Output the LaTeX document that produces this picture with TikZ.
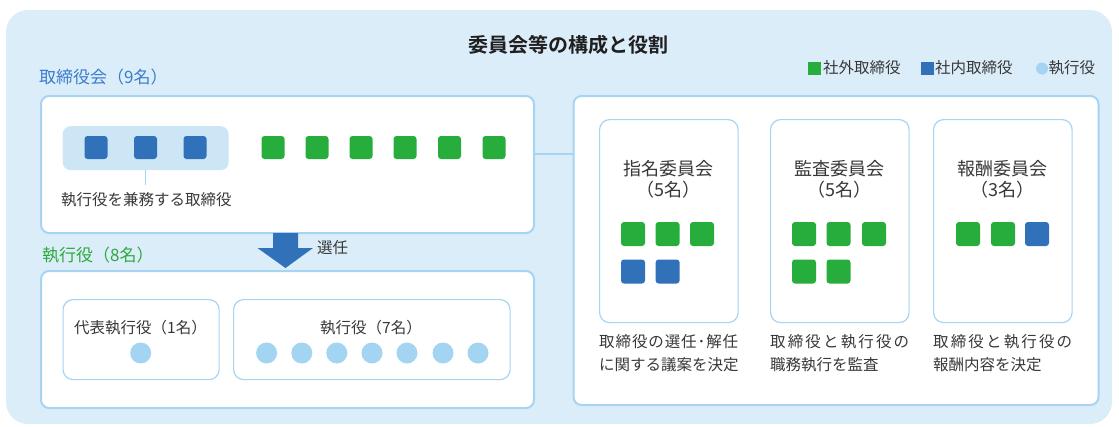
\documentclass[tikz,border=0pt]{standalone}
\usepackage{fontspec}
\setmainfont{Noto Sans CJK JP}[BoldFont={* Bold}]
\definecolor{bgblue}{HTML}{DCEDFA}
\definecolor{bordblue}{HTML}{A7D4F2}
\definecolor{sqgreen}{HTML}{27AD3B}
\definecolor{sqblue}{HTML}{3171BA}
\definecolor{circblue}{HTML}{A3D4F2}
\definecolor{shadeblue}{HTML}{CDE6F6}
\definecolor{txt}{HTML}{383838}
\definecolor{hblue}{HTML}{3A7DC9}
\definecolor{hgreen}{HTML}{2BAA3C}
\tikzset{
  panel/.style={draw=bordblue, line width=2pt, fill=white, rounded corners=8pt, inner sep=0pt, anchor=north west},
  subbox/.style={draw=bordblue, line width=1.2pt, fill=white, rounded corners=10pt, inner sep=0pt, anchor=north west},
  gsq/.style={fill=sqgreen, rounded corners=3pt, minimum size=23pt, inner sep=0pt},
  bsq/.style={fill=sqblue, rounded corners=3pt, minimum size=23pt, inner sep=0pt},
  csq/.style={fill=sqgreen, rounded corners=3pt, minimum size=24pt, inner sep=0pt},
  cbsq/.style={fill=sqblue, rounded corners=3pt, minimum size=24pt, inner sep=0pt},
  dot/.style={circle, fill=circblue, minimum size=21pt, inner sep=0pt},
  body/.style={text=txt, font=\fontsize{15.5}{19}\selectfont, inner sep=0pt},
  ctitle/.style={text=txt, font=\fontsize{18}{21}\selectfont, inner sep=0pt, align=center},
  conn/.style={draw=bordblue, line width=2pt},
}
\begin{document}
\begin{tikzpicture}[x=1pt,y=-1pt]
\useasboundingbox (0,0) rectangle (1119,426);
\fill[bgblue, rounded corners=22pt] (6,10) rectangle (1112,424);

% title and legend
\node[text=black!88, font=\fontsize{20}{24}\selectfont\bfseries, inner sep=0pt] (title) at (568,45) {委員会等の構成と役割};
\node[fill=sqgreen, minimum size=13pt, inner sep=0pt] (lg1) at (814.5,68.5) {};
\node[body, anchor=west] (lgt1) at (823,68) {社外取締役};
\node[fill=sqblue, minimum size=13pt, inner sep=0pt] (lg2) at (927,68.5) {};
\node[body, anchor=west] (lgt2) at (935,68) {社内取締役};
\node[circle, fill=circblue, minimum size=12pt, inner sep=0pt] (lg3) at (1042,68.5) {};
\node[body, anchor=west] (lgt3) at (1048.5,68) {執行役};

% board of directors
\node[text=hblue, font=\fontsize{17}{20}\selectfont, inner sep=0pt, anchor=west] (boardlbl) at (39,77) {取締役会（9名）};
\node[panel, minimum width=493pt, minimum height=137pt] (board) at (40,95) {};
\node[fill=shadeblue, rounded corners=8pt, minimum width=166pt, minimum height=44pt, inner sep=0pt, anchor=north west] (shade) at (62.5,126) {};
\foreach \i/\x in {1/96,2/145.5,3/195} \node[bsq] (bb\i) at (\x,147.5) {};
\foreach \i/\x in {1/273,2/317,3/361,4/405,5/449.5,6/494} \node[gsq] (bg\i) at (\x,147.5) {};
\node[body, anchor=west] (note) at (61,200) {執行役を兼務する取締役};
\draw[bordblue, line width=1.5pt] (shade.south) -- ++(0,15);

% selection arrow
\coordinate (arr) at (285.5,233);
\fill[sqblue] (arr) ++(-12.5,0) -- ++(25,0) -- ++(0,15) -- ++(15,0) -- (285.5,268) -- (257.5,248) -- (273,248) -- cycle;
\node[body, anchor=west] (senin) at (317,248) {選任};

% executive officers
\node[text=hgreen, font=\fontsize{17}{20}\selectfont, inner sep=0pt, anchor=west] (execlbl) at (42,255) {執行役（8名）};
\node[panel, minimum width=493pt, minimum height=137pt] (exec) at (40,270) {};
\node[subbox, minimum width=156pt, minimum height=80pt] (rep) at (62.5,299) {};
\node[body] (reptxt) at (140.5,328) {代表執行役（1名）};
\node[dot] (repd) at (140.7,353) {};
\node[subbox, minimum width=276.5pt, minimum height=80pt] (offs) at (233,299) {};
\node[body] (offtxt) at (371,328) {執行役（7名）};
\foreach \i/\x in {1/266.6,2/301.8,3/336.8,4/372,5/407,6/443,7/478} \node[dot] (od\i) at (\x,353) {};

% committees
\node[panel, minimum width=525pt, minimum height=309pt] (comm) at (572.5,95) {};
\coordinate (hl) at (0,154);
\draw[conn] (board.east |- hl) -- (comm.west |- hl);

\node[subbox, minimum width=138.5pt, minimum height=203pt] (nom) at (599,119) {};
\node[subbox, minimum width=138.5pt, minimum height=203pt] (aud) at (770,119) {};
\node[subbox, minimum width=138.5pt, minimum height=203pt] (rem) at (933,119) {};

\node[ctitle] (nomt) at (nom.north |- {(0,179)}) {指名委員会\\（5名）};
\node[ctitle] (audt) at (aud.north |- {(0,179)}) {監査委員会\\（5名）};
\node[ctitle] (remt) at (rem.north |- {(0,179)}) {報酬委員会\\（3名）};

\foreach \i/\x in {1/633,2/667.6,3/702} \node[csq] (ng\i) at (\x,234) {};
\foreach \i/\x in {1/633,2/667.6} \node[cbsq] (nb\i) at (\x,271.5) {};
\foreach \i/\x in {1/804,2/838.5,3/874} \node[csq] (ag\i) at (\x,234) {};
\foreach \i/\x in {4/804,5/838.5} \node[csq] (ag\i) at (\x,271.5) {};
\foreach \i/\x in {1/968,2/1003} \node[csq] (rg\i) at (\x,234) {};
\node[cbsq] (rb1) at (1037,234) {};

\node[body, anchor=north west, align=left] (nomd) at (599,334) {\hbox to 139pt{取\hfil 締\hfil 役\hfil の\hfil 選\hfil 任\hfil ･\hfil 解\hfil 任}\\[4pt]\hbox to 139pt{に関する議案を決定\hfil}};
\node[body, anchor=north west, align=left] (audd) at (770,334) {\hbox to 139pt{取\hfil 締\hfil 役\hfil と\hfil 執\hfil 行\hfil 役\hfil の}\\[4pt]\hbox to 139pt{職務執行を監査\hfil}};
\node[body, anchor=north west, align=left] (remd) at (933,334) {\hbox to 139pt{取\hfil 締\hfil 役\hfil と\hfil 執\hfil 行\hfil 役\hfil の}\\[4pt]\hbox to 139pt{報酬内容を決定\hfil}};
\end{tikzpicture}
\end{document}
